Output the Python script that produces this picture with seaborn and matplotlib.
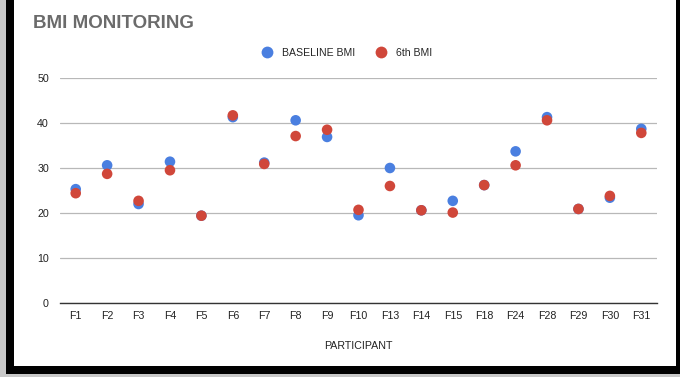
import matplotlib
matplotlib.use("Agg")
import matplotlib.pyplot as plt
from matplotlib.patches import Rectangle
import seaborn as sns
import pandas as pd

participants = ["F1", "F2", "F3", "F4", "F5", "F6", "F7", "F8", "F9", "F10",
                "F13", "F14", "F15", "F18", "F24", "F28", "F29", "F30", "F31"]
baseline_bmi = [25.3, 30.6, 22.0, 31.4, 19.4, 41.3, 31.2, 40.6, 36.9, 19.5,
                30.0, 20.6, 22.7, 26.2, 33.7, 41.3, 20.9, 23.4, 38.7]
sixth_bmi = [24.4, 28.7, 22.7, 29.5, 19.4, 41.7, 30.9, 37.1, 38.5, 20.7,
             26.0, 20.6, 20.1, 26.2, 30.6, 40.6, 20.9, 23.8, 37.8]
series_names = ["BASELINE BMI", "6th BMI"]
colors = ["#4a7fe0", "#d0473a"]
y_ticks = [0, 10, 20, 30, 40, 50]

df = pd.DataFrame({
    "PARTICIPANT": participants * 2,
    "BMI": baseline_bmi + sixth_bmi,
    "Series": [series_names[0]] * len(participants) + [series_names[1]] * len(participants),
})

sns.set_theme(style="white")
plt.rcParams["font.family"] = ["Liberation Sans", "DejaVu Sans"]

fig = plt.figure(figsize=(6.8, 3.77), dpi=100)
W, H = 680, 377

# frame around the card
fig.patches.append(Rectangle((0, 0), 1, 1, transform=fig.transFigure,
                             facecolor="#c8c8c8", edgecolor="none", zorder=-3))
fig.patches.append(Rectangle((6 / W, 3 / H), 1 - 6 / W, 1 - 3 / H, transform=fig.transFigure,
                             facecolor="#000000", edgecolor="none", zorder=-2))
fig.patches.append(Rectangle((14 / W, 11 / H), (676 - 14) / W, (377 - 11) / H,
                             transform=fig.transFigure,
                             facecolor="white", edgecolor="none", zorder=-1))

ax = fig.add_axes([60 / W, 1 - 303 / H, (657 - 60) / W, (303 - 78) / H])
ax.set_facecolor("none")

sns.scatterplot(data=df, x="PARTICIPANT", y="BMI", hue="Series",
                palette=dict(zip(series_names, colors)), s=58,
                edgecolor="none", linewidth=0, legend=False, ax=ax, zorder=3)

ax.set_xlim(-0.5, len(participants) - 0.5)
ax.set_ylim(0, 50)
ax.set_yticks(y_ticks)
ax.set_yticklabels([str(t) for t in y_ticks])
ax.grid(axis="y", color="#b8b8b8", linewidth=0.9)
ax.set_axisbelow(True)
for side in ["top", "right", "left"]:
    ax.spines[side].set_visible(False)
ax.spines["bottom"].set_color("#333333")
ax.spines["bottom"].set_linewidth(1.0)
ax.spines["bottom"].set_zorder(2)
ax.tick_params(axis="both", length=0, labelsize=7.7, colors="#222222")
ax.tick_params(axis="x", pad=6)
ax.tick_params(axis="y", pad=8)
ax.set_xlabel("PARTICIPANT", fontsize=7.7, color="#222222", labelpad=14)
ax.set_ylabel("")

fig.text(33 / W, 1 - 24 / H, "BMI MONITORING", fontsize=13.5, fontweight="bold",
         color="#6b6b6b", ha="left", va="center")

handles = [plt.Line2D([], [], marker="o", linestyle="none", markersize=8.5,
                      markerfacecolor=c, markeredgecolor="none") for c in colors]
fig.legend(handles, series_names, loc="center", bbox_to_anchor=(347 / W, 1 - 53 / H),
           ncol=2, frameon=False, fontsize=7.6, handletextpad=0.9, columnspacing=2.0,
           handlelength=1.0)

fig.savefig("out.png", dpi=100)
